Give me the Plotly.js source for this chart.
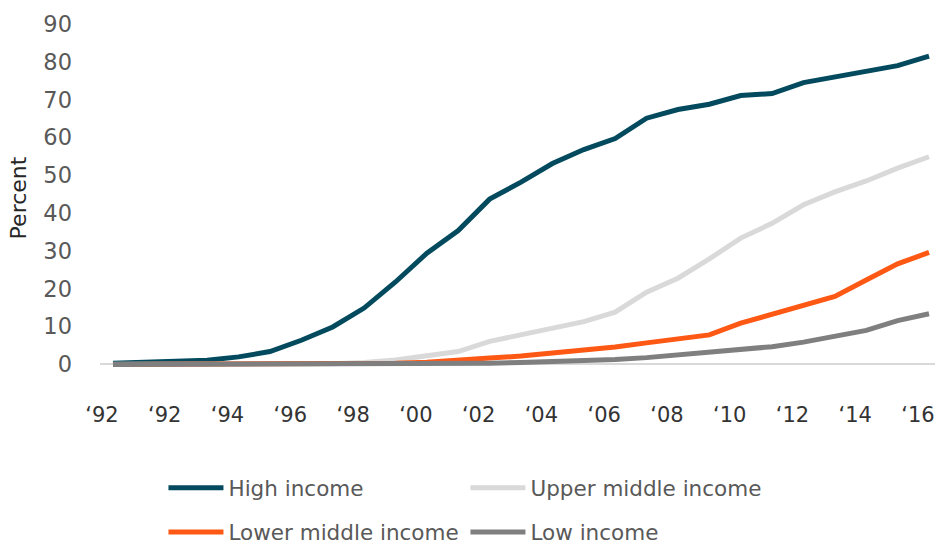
<!DOCTYPE html>
<html>
<head>
<meta charset="utf-8">
<script src="https://cdn.plot.ly/plotly-3.0.1.min.js"></script>
<style>
html,body{margin:0;padding:0;background:#fff;}
#chart{width:935px;height:544px;}
</style>
</head>
<body>
<div id="chart"></div>
<script>
var years = [1990,1991,1992,1993,1994,1995,1996,1997,1998,1999,2000,2001,2002,2003,2004,2005,2006,2007,2008,2009,2010,2011,2012,2013,2014,2015,2016];
var highIncome = [0.3,0.5,0.7,1.1,2.0,3.4,6.4,9.9,14.9,21.8,29.4,35.4,43.7,48.2,53.1,56.8,59.7,65.1,67.4,68.8,71.1,71.6,74.5,76.0,77.8,79.0,81.5];
var upperMiddle = [0.05,0.05,0.05,0.05,0.05,0.1,0.1,0.2,0.5,1.2,2.3,3.4,6.1,7.8,9.8,11.3,13.8,19.1,22.8,27.9,33.4,37.3,42.2,45.6,48.5,51.9,54.9];
var lowerMiddle = [0,0,0,0,0,0,0,0.05,0.1,0.3,0.6,1.0,1.7,2.2,2.9,3.6,4.6,5.7,6.6,7.8,10.9,13.2,15.6,18.0,22.3,26.6,29.6];
var lowIncome = [0,0,0,0,0,0,0,0,0,0.05,0.1,0.2,0.3,0.5,0.7,1.0,1.3,1.8,2.6,3.3,4.1,4.7,5.9,7.5,9.0,11.6,13.4];
var tickYears = [1990,1992,1994,1996,1998,2000,2002,2004,2006,2008,2010,2012,2014,2016];
var tickLabels = ["\u201892","\u201892","\u201894","\u201896","\u201898","\u201800","\u201802","\u201804","\u201806","\u201808","\u201810","\u201812","\u201814","\u201816"];
var seriesNames = ["High income","Upper middle income","Lower middle income","Low income"];

var FONT = "DejaVu Sans, sans-serif";
function tr(y, name, color, legend){
  return {x: years, y: y, name: name, type: 'scatter', mode: 'lines',
          line: {color: color, width: 5}, legend: legend, hoverinfo: 'skip'};
}
var data = [
  tr(highIncome, seriesNames[0], '#034a5e', 'legend'),
  tr(upperMiddle, seriesNames[1], '#d9d9d9', 'legend'),
  tr(lowerMiddle, seriesNames[2], '#fe5815', 'legend2'),
  tr(lowIncome, seriesNames[3], '#7f7f7f', 'legend2')
];
var legendBase = {orientation: 'h', xanchor: 'left', yanchor: 'middle', x: 0.076,
  font: {family: FONT, size: 21.5, color: '#595959'}, entrywidth: 232, entrywidthmode: 'pixels',
  itemwidth: 55, bgcolor: 'rgba(0,0,0,0)', itemclick: false, itemdoubleclick: false};
var layout = {
  width: 935, height: 544,
  margin: {l: 100, r: 0, t: 24, b: 172, autoexpand: false},
  paper_bgcolor: '#fff', plot_bgcolor: '#fff',
  showlegend: true,
  xaxis: {range: [1989.586, 2016.19], tickvals: tickYears, ticktext: tickLabels,
    showgrid: false, zeroline: false, showline: false, ticks: '',
    tickfont: {family: FONT, size: 21, color: '#333333'},
    ticklabelstandoff: 28, ticklabelshift: -11, ticklabeloverflow: 'allow', automargin: false},
  yaxis: {range: [-2, 90], tickvals: [0,10,20,30,40,50,60,70,80,90],
    showgrid: false, zeroline: true, zerolinecolor: '#d9d9d9', zerolinewidth: 2,
    showline: false, ticks: '', automargin: false,
    tickfont: {family: FONT, size: 22.5, color: '#595959'},
    ticklabelstandoff: 27,
    title: {text: '\u00a0\u00a0Percent', font: {family: FONT, size: 22, color: '#262626'}, standoff: 10}},
  legend: Object.assign({}, legendBase, {y: -0.333}),
  legend2: Object.assign({}, legendBase, {y: -0.46})
};
Plotly.newPlot('chart', data, layout, {staticPlot: true, displayModeBar: false});
</script>
</body>
</html>
